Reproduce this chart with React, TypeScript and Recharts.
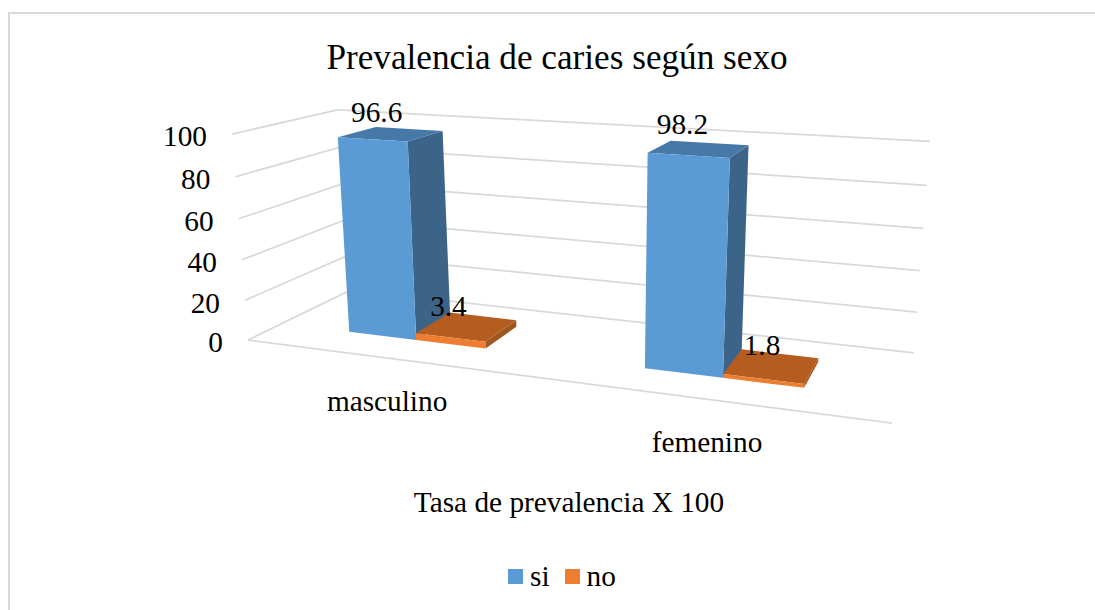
import { BarChart, Bar, XAxis, YAxis, CartesianGrid, LabelList, Legend } from 'recharts'

const categories = ['masculino', 'femenino']
const siValues = [96.6, 98.2]
const noValues = [3.4, 1.8]
const valueTicks = [0, 20, 40, 60, 80, 100]

const tableData = categories.map((name, i) => ({ name, si: siValues[i], no: noValues[i] }))

const FONT = '"Liberation Serif", serif'
const GRID = '#D9D9D9'
const TEXT = '#000000'
const LABEL_SIZE = 29.3

// flat plot box that recharts lays out, it gets projected into the 3d view below
const CHART_W = 1095
const CHART_H = 610
const PLOT_LEFT = 200
const PLOT_TOP = 100
const PLOT_W = 700
const PLOT_H = 300

// bars stand between these depths on the floor
const BAR_FRONT = 0.3
const BAR_BACK = 0.69

// w along the category axis, d into the depth, v up the value axis, all 0..1
const project = (w: number, d: number, v: number) => {
  const den = 1 - 0.1509 * w + 0.1498 * d - 0.0458 * v
  const x = (509.4 * w + 155.6 * d + 248 - 26.6 * v) / den - 4 * (1 - w) * d * v
  const y = (19.2 * w - 6.6 * d + 340 - 212.1 * v) / den - 6 * w * v
  return { x, y }
}

const toW = (px: number) => (px - PLOT_LEFT) / PLOT_W - 0.005
const toV = (py: number) => (PLOT_TOP + PLOT_H - py) / PLOT_H

const poly = (pts: { x: number; y: number }[]) => pts.map(p => `${p.x},${p.y}`).join(' ')

const makeBar = (front: string, side: string, top: string) => (props: any) => {
  const { x, y, width, height } = props
  const w0 = toW(x)
  const w1 = toW(x + width)
  const v0 = toV(y + height)
  const v1 = toV(y)
  return (
    <g>
      <polygon
        points={poly([project(w1, BAR_FRONT, v0), project(w1, BAR_BACK, v0), project(w1, BAR_BACK, v1), project(w1, BAR_FRONT, v1)])}
        fill={side}
      />
      <polygon
        points={poly([project(w0, BAR_FRONT, v1), project(w1, BAR_FRONT, v1), project(w1, BAR_BACK, v1), project(w0, BAR_BACK, v1)])}
        fill={top}
      />
      <polygon
        points={poly([project(w0, BAR_FRONT, v0), project(w1, BAR_FRONT, v0), project(w1, BAR_FRONT, v1), project(w0, BAR_FRONT, v1)])}
        fill={front}
      />
    </g>
  )
}

// excel nudged each data label a little differently, [dx, dy] per category
const makeLabel = (nudges: number[][]) => (props: any) => {
  const { x, y, width, value, index } = props
  const p = project(toW(x + width / 2), 0.5, toV(y))
  return (
    <text x={p.x + nudges[index][0]} y={p.y + nudges[index][1]} dy="0.35em" textAnchor="middle" fontFamily={FONT} fontSize={LABEL_SIZE} fill={TEXT}>
      {value}
    </text>
  )
}

const GridLine = (props: any) => {
  const v = toV(props.y1)
  const frontL = project(0, 0, v)
  const backL = project(0, 1, v)
  const backR = project(1, 1, v)
  const frontR = project(1, 0, 0)
  return (
    <g key={props.key ?? props.y1}>
      <polyline points={poly([frontL, backL, backR])} fill="none" stroke={GRID} strokeWidth={1.75} />
      {v < 0.001 && <line x1={frontL.x} y1={frontL.y} x2={frontR.x} y2={frontR.y} stroke={GRID} strokeWidth={1.75} />}
    </g>
  )
}

const ValueTick = (props: any) => {
  const p = project(0, 0, props.payload.value / 100)
  return (
    <text x={p.x - 25} y={p.y + 2} dy="0.35em" textAnchor="end" fontFamily={FONT} fontSize={LABEL_SIZE} fill={TEXT}>
      {props.payload.value}
    </text>
  )
}

const CategoryTick = (props: any) => {
  const p = project(toW(props.x), 0, 0)
  return (
    <text x={p.x} y={p.y + 43} dy="0.35em" textAnchor="middle" fontFamily={FONT} fontSize={LABEL_SIZE} fill={TEXT}>
      {props.payload.value}
    </text>
  )
}

const LegendRow = (props: any) => (
  <div style={{ display: 'flex', alignItems: 'center', fontFamily: FONT, fontSize: LABEL_SIZE, color: TEXT, lineHeight: '30px' }}>
    {props.payload.map((item: any) => (
      <div key={item.value} style={{ display: 'flex', alignItems: 'center', marginRight: 15 }}>
        <span style={{ width: 15, height: 15, background: item.color, marginRight: 7 }} />
        <span>{item.value}</span>
      </div>
    ))}
  </div>
)

const centered = (x: number, y: number, fontSize: number): React.CSSProperties => ({
  position: 'absolute',
  left: x,
  top: y,
  transform: 'translate(-50%, -50%)',
  whiteSpace: 'nowrap',
  fontFamily: FONT,
  fontSize,
  color: TEXT,
})

export default function App() {
  return (
    <div style={{ position: 'absolute', left: 0, top: 0, width: CHART_W, height: CHART_H, overflow: 'hidden', background: '#fff' }}>
      <div style={{ position: 'absolute', left: 8, top: 12, right: 0, bottom: 0, borderLeft: `2px solid ${GRID}`, borderTop: `2px solid ${GRID}` }} />
      <BarChart
        width={CHART_W}
        height={CHART_H}
        data={tableData}
        margin={{ top: PLOT_TOP, left: PLOT_LEFT - 1, right: CHART_W - PLOT_LEFT - PLOT_W, bottom: CHART_H - PLOT_TOP - PLOT_H - 1 }}
        barCategoryGap="26%"
        barGap={0}
      >
        <CartesianGrid vertical={false} horizontal={GridLine as any} />
        <XAxis dataKey="name" height={1} axisLine={false} tickLine={false} interval={0} tick={CategoryTick as any} />
        <YAxis width={1} domain={[0, 100]} ticks={valueTicks} axisLine={false} tickLine={false} interval={0} tick={ValueTick as any} />
        <Legend
          content={LegendRow as any}
          verticalAlign="middle"
          align="center"
          itemSorter={null as any}
          wrapperStyle={{ position: 'absolute', left: 508, top: 561, width: 'auto', bottom: 'auto' }}
        />
        <Bar dataKey="si" name="si" fill="#5B9BD5" isAnimationActive={false} shape={makeBar('#5B9BD5', '#3C6489', '#4678A8') as any}>
          <LabelList dataKey="si" content={makeLabel([[-15, -22], [-17, -25]]) as any} />
        </Bar>
        <Bar dataKey="no" name="no" fill="#ED7D31" isAnimationActive={false} shape={makeBar('#ED7D31', '#A0561F', '#B55D20') as any}>
          <LabelList dataKey="no" content={makeLabel([[-19, -21], [-10, -21]]) as any} />
        </Bar>
      </BarChart>
      <div style={centered(557, 58, 35.2)}>Prevalencia de caries según sexo</div>
      <div style={centered(569, 502, LABEL_SIZE)}>Tasa de prevalencia X 100</div>
    </div>
  )
}
